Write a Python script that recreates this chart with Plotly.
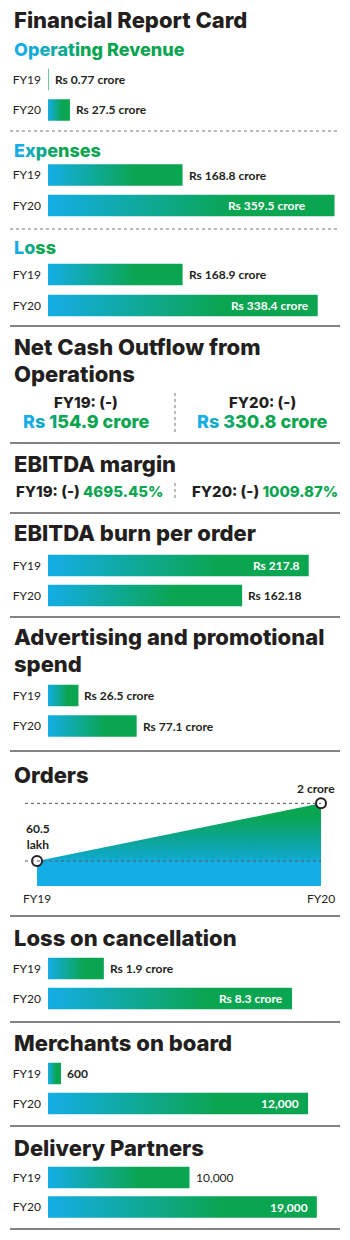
import plotly.graph_objects as go

W, H = 350, 1240
FONT = "Lato"
HFONT = "Inter"
BLUE = "#14ade6"
GREEN = "#0aa550"
DARK = "#231f20"
GRAY = "#5a5a5a"
HEAD_W = 800

# ---------------- data ----------------
years = ["FY19", "FY20"]
revenue = [0.77, 27.5]
revenue_labels = ["Rs 0.77 crore", "Rs 27.5 crore"]
expenses = [168.8, 359.5]
expenses_labels = ["Rs 168.8 crore", "Rs 359.5 crore"]
loss = [168.9, 338.4]
loss_labels = ["Rs 168.9 crore", "Rs 338.4 crore"]
cash_outflow = [154.9, 330.8]
ebitda_margin = [4695.45, 1009.87]
burn_per_order = [217.8, 162.18]
burn_labels = ["Rs 217.8", "Rs 162.18"]
ad_spend = [26.5, 77.1]
ad_labels = ["Rs 26.5 crore", "Rs 77.1 crore"]
orders_lakh = [60.5, 200]
orders_labels = ["60.5<br>lakh", "2 crore"]
cancel_loss = [1.9, 8.3]
cancel_labels = ["Rs 1.9 crore", "Rs 8.3 crore"]
merchants = [600, 12000]
merchants_labels = ["600", "12,000"]
partners = [10000, 19000]
partners_labels = ["10,000", "19,000"]


def hex2rgb(h):
    h = h.lstrip("#")
    return tuple(int(h[i:i + 2], 16) for i in (0, 2, 4))


def mix(c0, c1, t):
    a, b = hex2rgb(c0), hex2rgb(c1)
    return "#%02x%02x%02x" % tuple(round(a[i] + (b[i] - a[i]) * t) for i in range(3))


def grad_text(s, frac=0.5, c0=BLUE, c1=GREEN):
    n = len(s)
    pieces = []
    for i, ch in enumerate(s):
        t = min(1.0, i / max(1.0, (n - 1) * frac))
        if ch == " " and pieces:
            pieces[-1][0] += ch
        else:
            pieces.append([ch, mix(c0, c1, t)])
    return "".join(f'<span style="color:{c}">{t}</span>' for t, c in pieces)


def py(px):
    return 1 - px / H


fig = go.Figure()
annotations = []
shapes = []
layout_axes = {}

BAR_H = 21.5

# (values, labels, row centres px, px per unit, label inside?, inside shift, bold outside label)
sections = [
    (revenue, revenue_labels, (79.5, 110), 0.797, [False, False], -7, True),
    (expenses, expenses_labels, (175, 205.5), 0.797, [False, True], -27, True),
    (loss, loss_labels, (274.5, 305.5), 0.797, [False, True], -7, True),
    (burn_per_order, burn_labels, (565.5, 595.5), 1.197, [True, False], -7, True),
    (ad_spend, ad_labels, (695.5, 726), 1.15, [False, False], -7, True),
    (cancel_loss, cancel_labels, (968.5, 998.5), 29.4, [False, True], -7, True),
    (merchants, merchants_labels, (1073.5, 1103.5), 0.02167, [False, True], -7, True),
    (partners, partners_labels, (1177.5, 1207), 0.01415, [False, True], -7, False),
]

X0, X1 = 48, 345
axis_id = 1
for vals, labs, (c19, c20), scale, inside, ishift, bold_out in sections:
    xa = "x" if axis_id == 1 else f"x{axis_id}"
    ya = "y" if axis_id == 1 else f"y{axis_id}"
    xkey = "xaxis" if axis_id == 1 else f"xaxis{axis_id}"
    ykey = "yaxis" if axis_id == 1 else f"yaxis{axis_id}"
    p = c20 - c19
    layout_axes[xkey] = dict(domain=[X0 / W, X1 / W], range=[0, (X1 - X0) / scale],
                             visible=False, anchor=ya, fixedrange=True, automargin=False)
    layout_axes[ykey] = dict(domain=[py(c20 + p / 2), py(c19 - p / 2)], range=[-0.5, 1.5],
                             anchor=xa, showgrid=False, zeroline=False, showline=False,
                             ticks="", tickvals=[1, 0], ticktext=years,
                             tickfont=dict(family=FONT, size=12, color=DARK),
                             ticklabelstandoff=6, fixedrange=True, automargin=False)
    h = BAR_H / p
    for k, (v, lab) in enumerate(zip(vals, labs)):
        pos = 1 - k
        fig.add_trace(go.Scatter(
            x=[0, v, v, 0, 0], y=[pos - h / 2, pos - h / 2, pos + h / 2, pos + h / 2, pos - h / 2],
            xaxis=xa, yaxis=ya, mode="lines", line=dict(width=0), fill="toself",
            fillcolor=GREEN,
            fillgradient=dict(type="horizontal",
                              colorscale=[[0, BLUE], [0.65, GREEN], [1, GREEN]]),
            hoverinfo="skip", showlegend=False))
        if inside[k]:
            annotations.append(dict(x=v, y=pos, xref=xa, yref=ya, text=lab, showarrow=False,
                                    xanchor="right", yanchor="middle", xshift=ishift,
                                    font=dict(family=FONT, size=12, color="white", weight=700)))
        else:
            annotations.append(dict(x=v, y=pos, xref=xa, yref=ya, text=lab, showarrow=False,
                                    xanchor="left", yanchor="middle", xshift=4,
                                    font=dict(family=FONT, size=12, color=DARK,
                                              weight=700 if bold_out else 400)))
    axis_id += 1

# ---------------- Orders area chart ----------------
oa = axis_id
xa, ya = f"x{oa}", f"y{oa}"
OY_BOT, OY_TOP = 886, 800
ok = (OY_BOT - 861) / orders_lakh[0]
layout_axes[f"xaxis{oa}"] = dict(domain=[37 / W, 321 / W], range=[0, 1], anchor=ya,
                                 showgrid=False, zeroline=False, showline=False, ticks="",
                                 tickvals=[0, 1], ticktext=years,
                                 tickfont=dict(family=FONT, size=12, color=DARK),
                                 ticklabelstandoff=4, fixedrange=True, automargin=False)
layout_axes[f"yaxis{oa}"] = dict(domain=[py(OY_BOT), py(OY_TOP)],
                                 range=[0, (OY_BOT - OY_TOP) / ok], anchor=xa,
                                 visible=False, fixedrange=True, automargin=False)
fig.add_trace(go.Scatter(
    x=[0, 1], y=orders_lakh, xaxis=xa, yaxis=ya, mode="lines", line=dict(width=0),
    fill="tozeroy", fillcolor=BLUE,
    fillgradient=dict(type="vertical", start=0, stop=orders_lakh[1],
                      colorscale=[[0, BLUE], [0.3, BLUE], [0.34, "#10a9c8"],
                                  [0.55, "#0ca59a"], [0.85, GREEN], [1, GREEN]]),
    hoverinfo="skip", showlegend=False))
for v in orders_lakh:
    shapes.append(dict(type="line", xref="paper", yref=ya, x0=25 / W, x1=321 / W, y0=v, y1=v,
                       line=dict(color="#555555", width=1, dash="dot"), layer="above"))
fig.add_trace(go.Scatter(
    x=[0, 1], y=orders_lakh, xaxis=xa, yaxis=ya, mode="markers",
    marker=dict(size=10, color="white", line=dict(color=DARK, width=2)),
    cliponaxis=False, hoverinfo="skip", showlegend=False))
annotations.append(dict(x=0, y=orders_lakh[0], xref=xa, yref=ya, text=orders_labels[0],
                        showarrow=False, xanchor="center", yanchor="bottom", yshift=7, xshift=1,
                        font=dict(family=FONT, size=12, color=DARK, weight=700)))
annotations.append(dict(x=1, y=orders_lakh[1], xref=xa, yref=ya, text=orders_labels[1],
                        showarrow=False, xanchor="center", yanchor="bottom", yshift=5, xshift=-5,
                        font=dict(family=FONT, size=12, color=DARK, weight=700)))


# ---------------- titles ----------------
def title(text, ypx, size=22):
    annotations.append(dict(x=12 / W, y=py(ypx), xref="paper", yref="paper", text=text,
                            showarrow=False, xanchor="left", yanchor="middle",
                            font=dict(family=HFONT, size=size, color=DARK, weight=HEAD_W)))


title("Financial Report Card", 20)
title(grad_text("Operating Revenue", 0.45), 50, size=18)
title(grad_text("Expenses", 0.5), 150, size=18)
title(grad_text("Loss", 0.6), 247, size=18)
title("Net Cash Outflow from", 347)
title("Operations", 374)
title("EBITDA margin", 464)
title("EBITDA burn per order", 533)
title("Advertising and promotional", 637)
title("spend", 664)
title("Orders", 775)
title("Loss on cancellation", 938)
title("Merchants on board", 1043)
title("Delivery Partners", 1148)

# Net cash outflow
for cx, yr, v in [(86, years[0], cash_outflow[0]), (262, years[1], cash_outflow[1])]:
    annotations.append(dict(x=cx / W, y=py(402), xref="paper", yref="paper", text=f"{yr}: (-)",
                            showarrow=False, xanchor="center", yanchor="middle",
                            font=dict(family=HFONT, size=15, color=DARK, weight=HEAD_W)))
    annotations.append(dict(x=cx / W, y=py(421), xref="paper", yref="paper",
                            text=grad_text(f"Rs {v} crore", 0.3), showarrow=False,
                            xanchor="center", yanchor="middle",
                            font=dict(family=HFONT, size=18, color=GREEN, weight=HEAD_W)))
shapes.append(dict(type="line", xref="paper", yref="paper", x0=175 / W, x1=175 / W,
                   y0=py(393), y1=py(433), line=dict(color="#777777", width=1, dash="dot")))

# EBITDA margin
for cx, yr, v in [(90, years[0], ebitda_margin[0]), (265, years[1], ebitda_margin[1])]:
    annotations.append(dict(x=cx / W, y=py(492), xref="paper", yref="paper",
                            text=f'{yr}: (-) <span style="color:{GREEN}">{v:.2f}%</span>',
                            showarrow=False, xanchor="center", yanchor="middle",
                            font=dict(family=HFONT, size=15, color=DARK, weight=HEAD_W)))
shapes.append(dict(type="line", xref="paper", yref="paper", x0=175 / W, x1=175 / W,
                   y0=py(483), y1=py(501), line=dict(color="#777777", width=1, dash="dot")))

# separators
for ypx in [131, 229]:
    shapes.append(dict(type="line", xref="paper", yref="paper", x0=10 / W, x1=340 / W,
                       y0=py(ypx), y1=py(ypx), line=dict(color="#777777", width=1, dash="dot")))
for ypx in [326, 443, 513, 617, 751, 916, 1022, 1126, 1229]:
    shapes.append(dict(type="line", xref="paper", yref="paper", x0=10 / W, x1=340 / W,
                       y0=py(ypx), y1=py(ypx), line=dict(color=GRAY, width=1.5)))

fig.update_layout(width=W, height=H, margin=dict(l=0, r=0, t=0, b=0, autoexpand=False),
                  paper_bgcolor="white", plot_bgcolor="white", showlegend=False,
                  annotations=annotations, shapes=shapes, **layout_axes)
fig.write_html("out.html", config={"displayModeBar": False})
